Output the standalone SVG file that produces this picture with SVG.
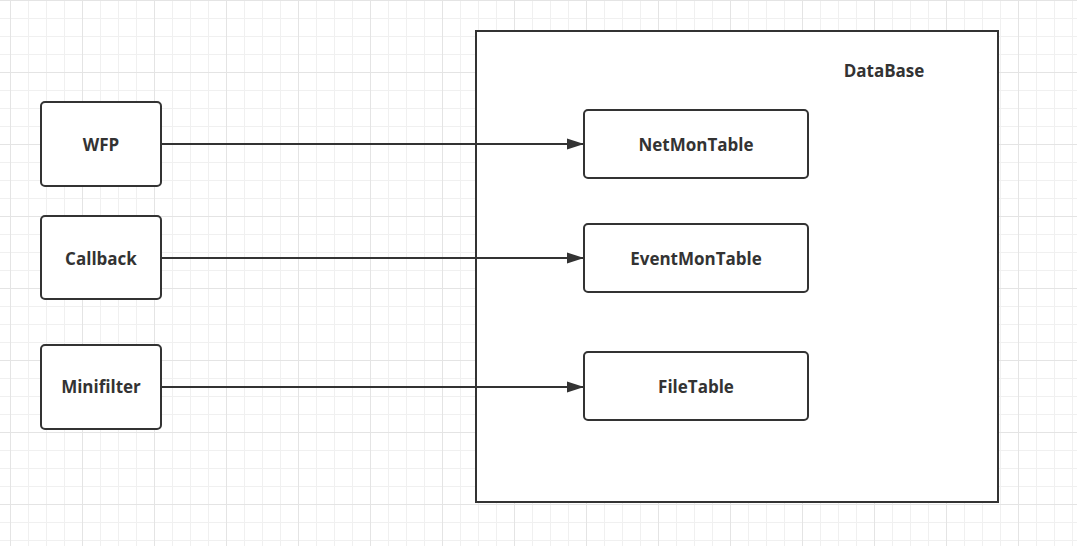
<svg xmlns="http://www.w3.org/2000/svg" width="1077" height="546" viewBox="0 0 1077 546">
<defs>
<pattern id="minor" x="10" y="0" width="18" height="18" patternUnits="userSpaceOnUse">
<path d="M0.5 0 V18 M0 0.5 H18" fill="none" stroke="#f0f0f0" stroke-width="1"/>
</pattern>
<pattern id="major" x="10" y="0" width="72" height="72" patternUnits="userSpaceOnUse">
<path d="M0.5 0 V72 M0 0.5 H72" fill="none" stroke="#e4e4e4" stroke-width="1"/>
</pattern>
<marker id="arrow" markerWidth="17" markerHeight="12" refX="17" refY="6" orient="auto" markerUnits="userSpaceOnUse">
<path d="M0 0.5 L17 6 L0 11.5 Z" fill="#333333"/>
</marker>
</defs>
<style>
.node rect{fill:#ffffff;stroke:#333333;stroke-width:2}
.label{font-family:"Open Sans","Noto Sans","Liberation Sans",sans-serif;font-weight:bold;font-size:17px;fill:#333333;text-anchor:middle}
.edge{fill:none;stroke:#333333;stroke-width:2}
</style>
<rect width="1077" height="546" fill="#ffffff"/>
<rect width="1077" height="546" fill="url(#minor)"/>
<rect width="1077" height="546" fill="url(#major)"/>
<g id="database" class="node">
<rect x="476" y="31" width="522" height="471" rx="0"/>
<text class="label" x="884" y="77">DataBase</text>
</g>
<g id="wfp" class="node">
<rect x="41" y="102" width="120" height="84" rx="4"/>
<text class="label" x="101" y="151">WFP</text>
</g>
<g id="callback" class="node">
<rect x="41" y="216" width="120" height="83" rx="4"/>
<text class="label" x="101" y="265">Callback</text>
</g>
<g id="minifilter" class="node">
<rect x="41" y="345" width="120" height="84" rx="4"/>
<text class="label" x="101" y="393">Minifilter</text>
</g>
<g id="netmontable" class="node">
<rect x="584" y="110" width="224" height="68" rx="4"/>
<text class="label" x="696" y="151">NetMonTable</text>
</g>
<g id="eventmontable" class="node">
<rect x="584" y="224" width="224" height="68" rx="4"/>
<text class="label" x="696" y="265">EventMonTable</text>
</g>
<g id="filetable" class="node">
<rect x="584" y="352" width="224" height="68" rx="4"/>
<text class="label" x="696" y="393">FileTable</text>
</g>
<g id="connectors">
<path class="edge" d="M161 144 L584 144" marker-end="url(#arrow)"/>
<path class="edge" d="M161 258 L584 258" marker-end="url(#arrow)"/>
<path class="edge" d="M161 387 L584 387" marker-end="url(#arrow)"/>
</g>
</svg>
